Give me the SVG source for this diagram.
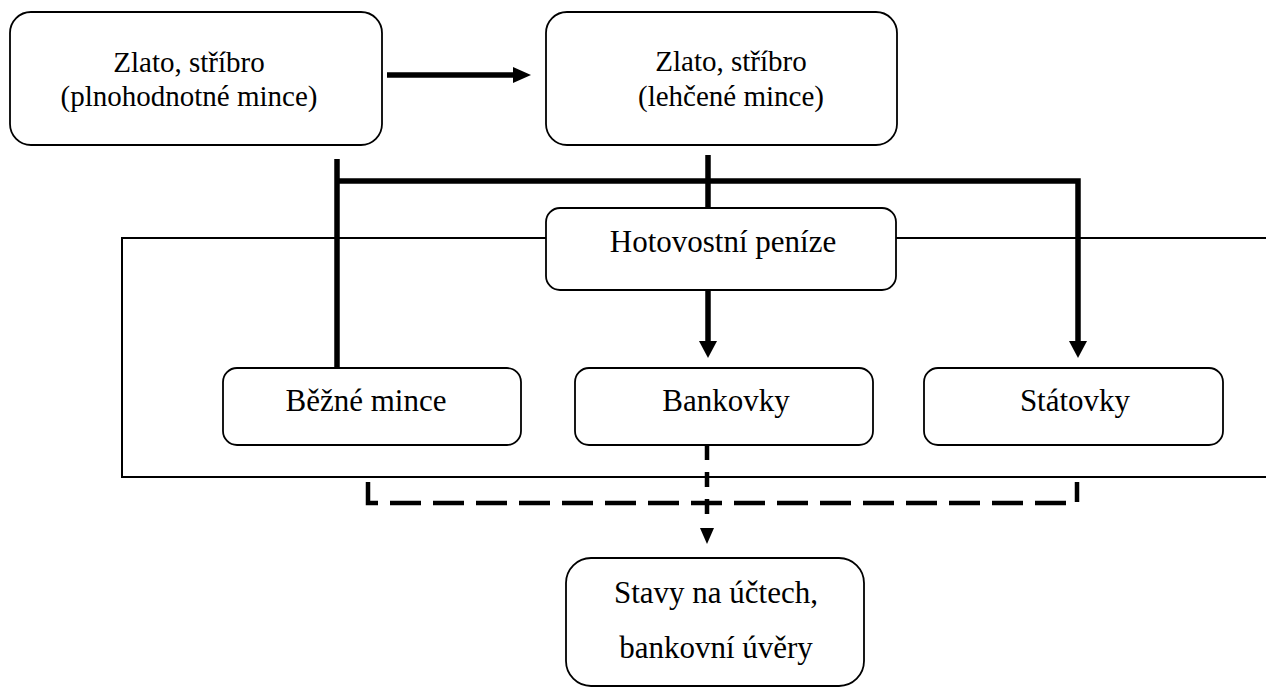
<svg xmlns="http://www.w3.org/2000/svg" width="1266" height="688" viewBox="0 0 1266 688">
<style>
.box{fill:#fff;stroke:#000;stroke-width:1.8}
.t{font-family:"Liberation Serif","Times New Roman",serif;fill:#000;text-anchor:middle}
.t29{font-size:29px}
.t31{font-size:31px}
.thick{fill:none;stroke:#000;stroke-width:5.5;stroke-linejoin:miter}
.dash{fill:none;stroke:#000;stroke-width:4.5}
.frame{fill:none;stroke:#000;stroke-width:2}
</style>
<defs>
<marker id="ah" markerUnits="userSpaceOnUse" markerWidth="18" markerHeight="20" refX="0" refY="9" orient="auto">
<path d="M0,0 L17,9 L0,18 z" fill="#000"/>
</marker>
<marker id="ahh" markerUnits="userSpaceOnUse" markerWidth="19" markerHeight="18" refX="0" refY="8" orient="auto">
<path d="M0,0 L18,8 L0,16 z" fill="#000"/>
</marker>
<marker id="ahd" markerUnits="userSpaceOnUse" markerWidth="30" markerHeight="16" refX="-11" refY="7" orient="auto">
<path d="M0,0 L16,7 L0,14 z" fill="#000"/>
</marker>
</defs>

<path id="frame" class="frame" d="M1268,238 H122 V477 H1268"/>

<g id="connectors">
<line class="thick" x1="387" y1="75" x2="513" y2="75" marker-end="url(#ahh)"/>
<line class="thick" x1="337" y1="159" x2="337" y2="368"/>
<line class="thick" x1="708" y1="155" x2="708" y2="208"/>
<polyline class="thick" points="337,181 1078,181 1078,341" marker-end="url(#ah)"/>
<line class="thick" x1="708" y1="290" x2="708" y2="341" marker-end="url(#ah)"/>
<path class="dash" d="M368,482 V503 H1077 V482" stroke-dasharray="31 12"/>
<line class="dash" x1="707" y1="445" x2="707" y2="517" stroke-dasharray="15 12" marker-end="url(#ahd)"/>
</g>

<g id="n-plnohodnotne">
<rect class="box" x="10" y="12" width="372" height="133" rx="21"/>
<text class="t t29" x="189" y="72">Zlato, stříbro</text>
<text class="t t29" x="189" y="106">(plnohodnotné mince)</text>
</g>

<g id="n-lehcene">
<rect class="box" x="546" y="12" width="351" height="133" rx="21"/>
<text class="t t29" x="731" y="71">Zlato, stříbro</text>
<text class="t t29" x="731" y="106">(lehčené mince)</text>
</g>

<g id="n-hotovostni">
<rect class="box" x="546" y="208" width="350" height="82" rx="14"/>
<text class="t t31" x="723" y="252">Hotovostní peníze</text>
</g>

<g id="n-bezne">
<rect class="box" x="223" y="368" width="298" height="77" rx="14"/>
<text class="t t31" x="366" y="411">Běžné mince</text>
</g>

<g id="n-bankovky">
<rect class="box" x="575" y="368" width="298" height="77" rx="14"/>
<text class="t t31" x="726" y="411">Bankovky</text>
</g>

<g id="n-statovky">
<rect class="box" x="924" y="368" width="299" height="77" rx="14"/>
<text class="t t31" x="1075" y="411">Státovky</text>
</g>

<g id="n-ucty">
<rect class="box" x="566" y="558" width="298" height="128" rx="25"/>
<text class="t t31" x="716" y="603">Stavy na účtech,</text>
<text class="t t31" x="716" y="658">bankovní úvěry</text>
</g>
</svg>
